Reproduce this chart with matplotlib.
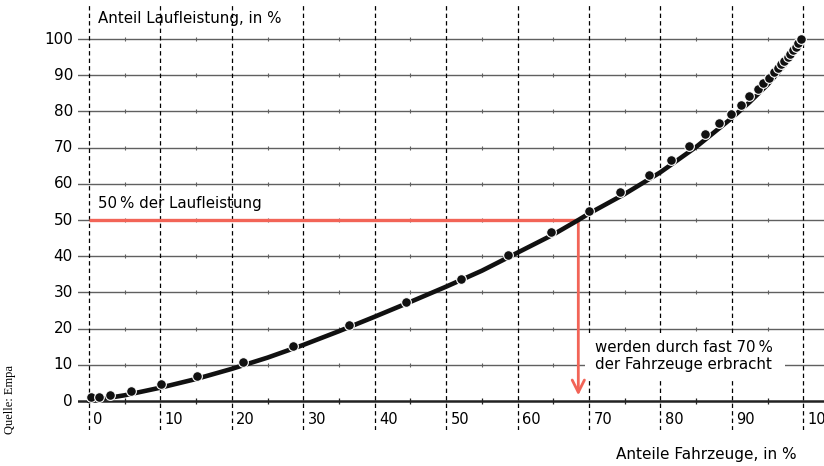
import numpy as np
import matplotlib
matplotlib.use('Agg')
import matplotlib.pyplot as plt

plt.rcParams['font.family'] = ['Liberation Sans Narrow', 'DejaVu Sans']

# measured points (share of vehicles, share of mileage), in %
pts_x = [0.3, 1.4, 2.9, 5.9, 10.1, 15.1, 21.6, 28.6, 36.4, 44.4, 52.1, 58.7, 64.7, 70.0,
         74.4, 78.4, 81.5, 84.0, 86.3, 88.2, 89.9, 91.3, 92.4, 93.6, 94.4, 95.2, 95.9,
         96.5, 96.9, 97.3, 97.8, 98.2, 98.6, 99.0, 99.3, 99.7]
pts_y = [1.1, 1.1, 1.7, 2.8, 4.7, 6.9, 10.8, 15.2, 21.0, 27.4, 33.7, 40.3, 46.7, 52.5,
         57.7, 62.4, 66.6, 70.4, 73.8, 76.8, 79.3, 81.8, 84.3, 86.2, 87.8, 89.2, 90.9,
         92.0, 93.1, 93.9, 95.0, 95.9, 97.0, 97.8, 98.9, 100.0]

# fitted curve
fit_x = [0, 5, 10, 15, 20, 25, 30, 35, 40, 45, 50, 55, 60, 65, 68.5, 70, 75, 80, 85,
         90, 92.5, 95, 97.5, 99, 100]
fit_y = [0, 1.6, 3.7, 6.1, 8.9, 12.0, 15.5, 19.3, 23.3, 27.4, 31.6, 36.0, 41.0, 46.0,
         50.0, 51.8, 57.2, 63.2, 70.2, 78.2, 82.6, 87.4, 93.0, 97.1, 100]

x_ticks = [0, 10, 20, 30, 40, 50, 60, 70, 80, 90, 100]
y_ticks = [0, 10, 20, 30, 40, 50, 60, 70, 80, 90, 100]
minor_x = [5, 15, 25, 35, 45, 55, 65, 75, 85, 95]
half_x = 68.5  # vehicles share at 50 % mileage

red = '#f26457'

fig = plt.figure(figsize=(8.24, 4.66), dpi=100)
ax = fig.add_axes([78 / 824, 1 - 430 / 466, 1 - 78 / 824, 425 / 466])
ax.set_xlim(-1.55, 102.9)
ax.set_ylim(-8.0, 109.4)
ax.axis('off')

# horizontal grid
for y in y_ticks[1:]:
    ax.plot([-1.55, 102.9], [y, y], color='#606060', lw=1.0, zorder=1)
    ax.plot(minor_x, [y] * len(minor_x), ls='none', marker='|', ms=3,
            mew=0.8, color='#606060', zorder=1)
ax.plot([-1.55, 102.9], [0, 0], color='#222222', lw=1.8, zorder=3)
ax.plot(minor_x, [0] * len(minor_x), ls='none', marker='|', ms=4, mew=0.9,
        color='#222222', zorder=3)

# vertical dashed lines
for x in x_ticks:
    ax.plot([x, x], [-8, 109.4], color='black', lw=0.9, ls=(0, (3.5, 2.5)), zorder=2)
    ax.text(x + 0.6, -5.0, str(x), fontsize=10.5, ha='left', va='center', zorder=6)

for y in y_ticks:
    fig.text(73 / 824, ax.transData.transform((0, y))[1] / 466, str(y),
             fontsize=11, ha='right', va='center')

# white box for annotation
ax.fill_between([69.4, 97.5], 6.0, 18.8, color='white', zorder=4, lw=0)

# red marker lines
ax.plot([0, half_x], [50, 50], color=red, lw=2.4, zorder=5, solid_capstyle='butt')
ax.annotate('', xy=(half_x, 0.8), xytext=(half_x, 50.3),
            arrowprops=dict(arrowstyle='->', color=red, lw=2.0,
                            mutation_scale=22), zorder=5)

ax.plot(fit_x, fit_y, color='#111111', lw=3.3, zorder=7, solid_capstyle='round',
        solid_joinstyle='round')
ax.plot(pts_x, pts_y, ls='none', marker='o', ms=7, mfc='#111111', mec='white',
        mew=0.8, zorder=8)

ax.text(1.2, 105.8, 'Anteil Laufleistung, in %', fontsize=10.8, ha='left', va='center',
        zorder=6)
ax.text(1.2, 54.5, '50\u2009% der Laufleistung', fontsize=10.8, ha='left', va='center',
        zorder=6)
ax.text(70.8, 12.4, 'werden durch fast 70\u2009%\nder Fahrzeuge erbracht', fontsize=10.8,
        ha='left', va='center', linespacing=1.2, zorder=6)

fig.text(797 / 824, 1 - 455 / 466, 'Anteile Fahrzeuge, in %', fontsize=11,
         ha='right', va='center')
fig.text(10 / 824, 1 - 399 / 466, 'Quelle: Empa', fontsize=9, rotation=90,
         ha='center', va='center', family=['Liberation Serif', 'DejaVu Serif'])

fig.savefig('out.png', dpi=100)
